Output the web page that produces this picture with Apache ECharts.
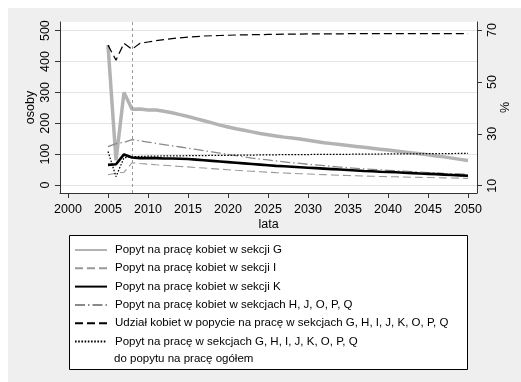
<!DOCTYPE html>
<html><head><meta charset="utf-8">
<script src="https://cdn.jsdelivr.net/npm/echarts@6/dist/echarts.min.js"></script>
<style>html,body{margin:0;padding:0;background:#fff}#c{width:521px;height:382px}</style>
</head><body><div id="c"></div>
<script>
const years = [2005,2006,2007,2008,2009,2010,2011,2012,2013,2014,2015,2016,2017,2018,2019,2020,2021,2022,2023,2024,2025,2026,2027,2028,2029,2030,2031,2032,2033,2034,2035,2036,2037,2038,2039,2040,2041,2042,2043,2044,2045,2046,2047,2048,2049,2050];
const xTicks = [2000,2005,2010,2015,2020,2025,2030,2035,2040,2045,2050];
const leftTicks = [0,100,200,300,400,500];
const rightTicks = [10,30,50,70];
const markYear = 2008;

const names = [
  'Popyt na pracę kobiet w sekcji G',
  'Popyt na pracę kobiet w sekcji I',
  'Popyt na pracę kobiet w sekcji K',
  'Popyt na pracę kobiet w sekcjach H, J, O, P, Q',
  'Udział kobiet w popycie na pracę w sekcjach G, H, I, J, K, O, P, Q',
  'Popyt na pracę w sekcjach G, H, I, J, K, O, P, Q'
];
const secondLine = 'do popytu na pracę ogółem';

const sekcjaG = [453,80,300,245,246,243,243,239,234,228,222,215,208,201,194,188,182,177,172,167,163,159,155,152,149,145,141,137,134,131,128,125,122,119,116,113,110,107,104,101,98,94,91,87,83,79];
const sekcjaI = [33,38,41,72,69.5,67.5,65.5,64,62,60,58.5,56.5,55,53,51,49.5,47.5,46,44.5,43,41.5,40,39,37.5,36.5,35.5,34.5,33.5,32.5,31.5,30.5,30,29,28.5,27.5,27,26.5,26,25,24.5,24,23.5,23,22.5,22,21.5];
const sekcjaK = [65,67,99,89,87,87,87,86,86,85,84,82,80,78,76,74,72,70,68,66,64,62,60.5,59,57.5,56,54.5,53,51.5,50,48.5,47,45.5,44.5,43,42,41,39.5,38.5,37,36,35,33.5,32.5,31,30];
const sekcjeHJOPQ = [124,134,138,147,143,139,135,131,127,123,119,115,111,107,103,99,95,91,87,84,81,78,75,72,70,67,65,63,60,58,56,54,52,50.5,49,47.5,46,44.5,43,41.5,40,39,37.5,36.5,35.5,34.5];
const udzialKobiet = [64.2,58.4,64.9,62.6,64.9,65.4,65.9,66.3,66.7,67.0,67.3,67.5,67.7,67.8,67.9,68.0,68.1,68.1,68.2,68.2,68.3,68.3,68.4,68.4,68.4,68.5,68.5,68.5,68.5,68.5,68.6,68.6,68.6,68.6,68.6,68.6,68.6,68.6,68.6,68.6,68.6,68.6,68.6,68.6,68.6,68.6];
const udzialOgolem = [23.2,13.5,20.8,21.2,21.3,21.4,21.4,21.5,21.5,21.5,21.6,21.6,21.6,21.7,21.7,21.7,21.8,21.8,21.8,21.9,21.9,21.9,22.0,22.0,22.0,22.0,22.1,22.1,22.1,22.1,22.1,22.2,22.2,22.2,22.2,22.3,22.3,22.3,22.3,22.3,22.4,22.4,22.4,22.4,22.5,22.5];

const pairs = arr => years.map((y, i) => [y, arr[i]]);
const FONT = 'Liberation Sans';
const axisColor = '#333';
const plain = v => String(v);

const chart = echarts.init(document.getElementById('c'), null, {renderer: 'canvas'});
chart.setOption({
  animation: false,
  backgroundColor: '#efefef',
  textStyle: {fontFamily: FONT},
  grid: {left: 60, right: 44, top: 22, bottom: 189, show: true, backgroundColor: '#fff', borderWidth: 0, containLabel: false, outerBoundsMode: 'none'},
  xAxis: {
    type: 'value', min: 1999, max: 2051.125,
    name: 'lata', nameLocation: 'middle', nameGap: 25, nameMoveOverlap: false,
    nameTextStyle: {fontSize: 12.5, color: '#000', fontFamily: FONT},
    axisLine: {show: true, onZero: false, lineStyle: {color: axisColor, width: 1}},
    axisTick: {show: true, length: 5, customValues: xTicks, lineStyle: {color: axisColor}},
    axisLabel: {customValues: xTicks, formatter: plain, fontSize: 12.5, color: '#000', margin: 10, fontFamily: FONT},
    splitLine: {show: false}
  },
  yAxis: [{
    type: 'value', position: 'left', min: -26, max: 528,
    name: 'osoby', nameLocation: 'middle', nameGap: 23, nameRotate: 90, nameMoveOverlap: false,
    nameTextStyle: {fontSize: 12.5, color: '#000', fontFamily: FONT},
    axisLine: {show: true, onZero: false, lineStyle: {color: axisColor}},
    axisTick: {show: true, length: 5, customValues: leftTicks, lineStyle: {color: axisColor}},
    axisLabel: {customValues: leftTicks, formatter: plain, rotate: 90, fontSize: 12.5, color: '#000', margin: 8, fontFamily: FONT},
    splitLine: {show: true, lineStyle: {color: '#e4e4e4', width: 1}}
  }, {
    type: 'value', position: 'right', min: 7.2, max: 73.1,
    name: '%', nameLocation: 'middle', nameGap: 22, nameRotate: 90, nameMoveOverlap: false,
    nameTextStyle: {fontSize: 12.5, color: '#000', fontFamily: FONT},
    axisLine: {show: true, onZero: false, lineStyle: {color: axisColor}},
    axisTick: {show: true, length: 5, customValues: rightTicks, lineStyle: {color: axisColor}},
    axisLabel: {customValues: rightTicks, formatter: plain, rotate: 90, fontSize: 12.5, color: '#000', margin: 9, fontFamily: FONT},
    splitLine: {show: false}
  }],
  legend: {
    orient: 'vertical', left: 74, top: 243, padding: 0,
    itemWidth: 32, itemHeight: 14, itemGap: 4.3, selectedMode: false,
    itemStyle: {opacity: 0},
    textStyle: {fontSize: 11.5, fontFamily: FONT, color: '#000', lineHeight: 14, padding: [0, 0, 0, 3]},
    data: names
  },
  graphic: [
    {type: 'rect', z: -100, shape: {x: 0, y: 0, width: 521, height: 8}, style: {fill: '#fff'}, silent: true},
    {type: 'rect', z: -100, shape: {x: 0, y: 0, width: 8, height: 382}, style: {fill: '#fff'}, silent: true},
    {type: 'rect', z: 1, shape: {x: 69.5, y: 235.5, width: 398, height: 134}, style: {fill: '#fff', stroke: '#000', lineWidth: 1}, silent: true},
    {type: 'text', z: 10, x: 114, y: 359, style: {text: secondLine, fontSize: 11.5, fontFamily: FONT, fill: '#000', verticalAlign: 'middle', align: 'left'}, silent: true}
  ],
  series: [
    {name: names[0], type: 'line', yAxisIndex: 0, data: pairs(sekcjaG), symbol: 'none', lineStyle: {color: '#b3b3b3', width: 3.5}, itemStyle: {color: '#b3b3b3'}, z: 2},
    {name: names[1], type: 'line', yAxisIndex: 0, data: pairs(sekcjaI), symbol: 'none', lineStyle: {color: '#999', width: 1.1, type: [8, 4]}, itemStyle: {color: '#999'}, z: 3},
    {name: names[2], type: 'line', yAxisIndex: 0, data: pairs(sekcjaK), symbol: 'none', lineStyle: {color: '#000', width: 2.6}, itemStyle: {color: '#000'}, z: 4},
    {name: names[3], type: 'line', yAxisIndex: 0, data: pairs(sekcjeHJOPQ), symbol: 'none', lineStyle: {color: '#8a8a8a', width: 1.3, type: [10, 3, 1.5, 3]}, itemStyle: {color: '#8a8a8a'}, z: 3},
    {name: names[4], type: 'line', yAxisIndex: 1, data: pairs(udzialKobiet), symbol: 'none', lineStyle: {color: '#000', width: 1.2, type: [8, 4]}, itemStyle: {color: '#000'}, z: 5},
    {name: names[5], type: 'line', yAxisIndex: 1, data: pairs(udzialOgolem), symbol: 'none', lineStyle: {color: '#000', width: 1.2, type: [1.6, 1.6]}, itemStyle: {color: '#000'}, z: 5},
    {name: 'rok bazowy', type: 'line', yAxisIndex: 0, data: [], symbol: 'none', z: 1,
     markLine: {silent: true, symbol: 'none', animation: false, label: {show: false},
       lineStyle: {color: '#999', width: 1, type: [3, 3]}, data: [{xAxis: markYear}]}}
  ]
});
</script></body></html>
